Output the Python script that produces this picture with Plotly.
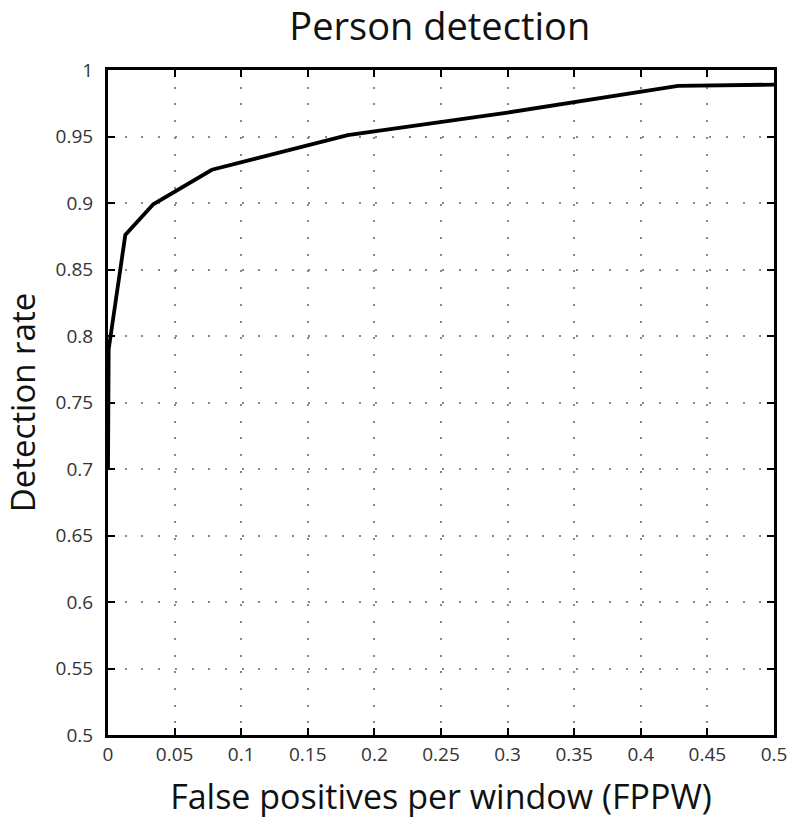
import plotly.graph_objects as go

fppw = [0.0, 0.0, 0.0005, 0.013, 0.034, 0.078, 0.18, 0.30, 0.428, 0.5]
detection_rate = [0.70, 0.76, 0.79, 0.876, 0.899, 0.925, 0.951, 0.968, 0.988, 0.989]

x_ticks = [0, 0.05, 0.1, 0.15, 0.2, 0.25, 0.3, 0.35, 0.4, 0.45, 0.5]
x_labels = ["0", "0.05", "0.1", "0.15", "0.2", "0.25", "0.3", "0.35", "0.4", "0.45", "0.5"]
y_ticks = [0.5, 0.55, 0.6, 0.65, 0.7, 0.75, 0.8, 0.85, 0.9, 0.95, 1.0]
y_labels = ["0.5", "0.55", "0.6", "0.65", "0.7", "0.75", "0.8", "0.85", "0.9", "0.95", "1"]

fig = go.Figure()
fig.add_trace(go.Scatter(x=fppw, y=detection_rate, mode="lines",
                         line=dict(color="black", width=3.8), showlegend=False))

axis_common = dict(showline=True, linecolor="black", linewidth=3, mirror="allticks",
                   ticks="inside", ticklen=7, tickwidth=1.5, tickcolor="black",
                   showgrid=True, gridcolor="#888888", gridwidth=1.5,
                   griddash="2px,14.7px", zeroline=False, automargin=False,
                   tickfont=dict(family="Open Sans", size=19, color="#333"))

fig.update_xaxes(range=[0, 0.5], tickvals=x_ticks, ticktext=x_labels,
                 title=dict(text="False positives per window (FPPW)",
                            font=dict(family="Open Sans", size=34, color="#111"), standoff=20),
                 **axis_common)
fig.update_yaxes(range=[0.5, 1.0], tickvals=y_ticks, ticktext=y_labels,
                 ticklabelstandoff=8,
                 title=dict(text="Detection rate",
                            font=dict(family="Open Sans", size=33, color="#111"), standoff=14),
                 **axis_common)

fig.update_layout(
    width=791, height=827,
    margin=dict(l=108, r=17, t=70, b=92),
    plot_bgcolor="white", paper_bgcolor="white",
    title=dict(text="Person detection", x=0.556, xanchor="center", y=0.968, yanchor="middle",
               font=dict(family="Open Sans", size=38, color="#111")),
)

fig.write_html("out.html", config={"displayModeBar": False},
               post_script="document.body.style.margin='0';")
